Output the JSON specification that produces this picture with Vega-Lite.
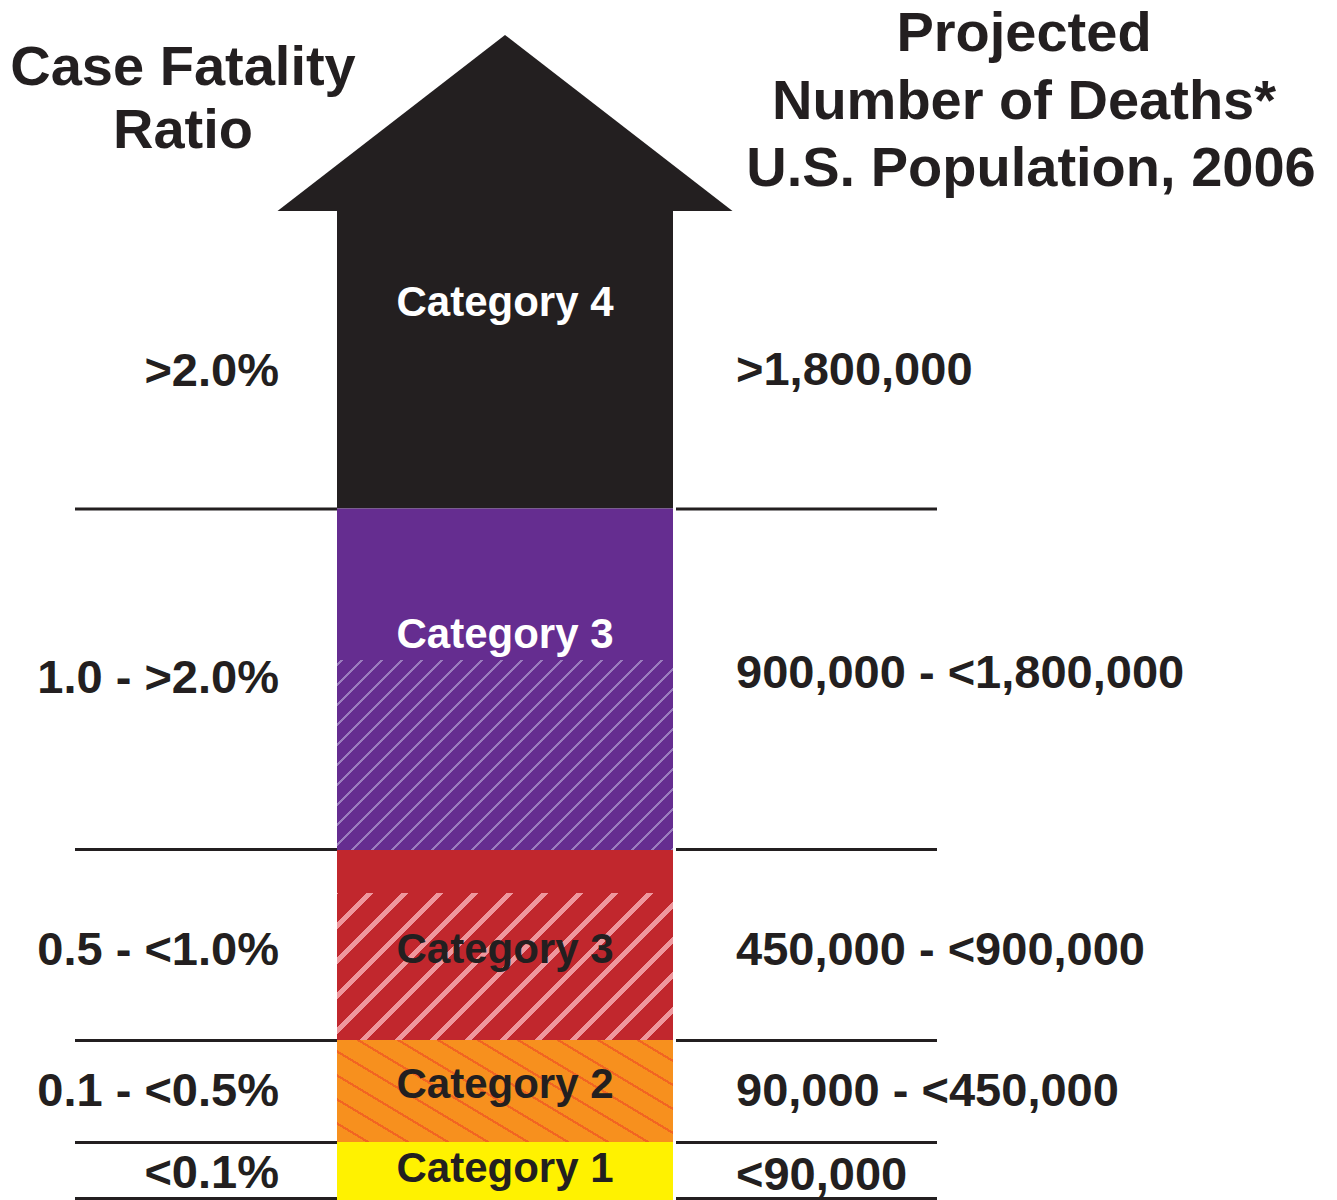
{
  "$schema": "https://vega.github.io/schema/vega-lite/v6.json",
  "width": 1337,
  "height": 1200,
  "autosize": {"type": "fit", "contains": "padding"},
  "padding": 0,
  "background": "white",
  "config": {"view": {"stroke": null}},
  "datasets": {
    "solid": [
      {"part": "Category 4", "left": 337, "right": 673, "top": 210, "bottom": 508.5},
      {"part": "Category 3 (purple)", "left": 337, "right": 673, "top": 508.5, "bottom": 660},
      {"part": "Category 3 (red)", "left": 337, "right": 673, "top": 850, "bottom": 893},
      {"part": "Category 1", "left": 337, "right": 673, "top": 1142, "bottom": 1200}
    ],
    "hatched": [
      {"part": "Category 3 (purple)", "left": 337, "right": 673, "top": 660, "bottom": 850},
      {"part": "Category 3 (red)", "left": 337, "right": 673, "top": 893, "bottom": 1040},
      {"part": "Category 2", "left": 337, "right": 673, "top": 1040, "bottom": 1142}
    ],
    "head": [
      {"x": 277.5, "top": 211, "base": 211},
      {"x": 505, "top": 35, "base": 211},
      {"x": 732.5, "top": 211, "base": 211}
    ],
    "separators": [
      {"side": "left", "from": 75, "to": 337, "y": 509},
      {"side": "left", "from": 75, "to": 337, "y": 849.5},
      {"side": "left", "from": 75, "to": 337, "y": 1040.5},
      {"side": "left", "from": 75, "to": 337, "y": 1142.5},
      {"side": "left", "from": 75, "to": 337, "y": 1198.5},
      {"side": "right", "from": 676, "to": 937, "y": 509},
      {"side": "right", "from": 676, "to": 937, "y": 849.5},
      {"side": "right", "from": 676, "to": 937, "y": 1040.5},
      {"side": "right", "from": 676, "to": 937, "y": 1142.5},
      {"side": "right", "from": 676, "to": 937, "y": 1198.5}
    ],
    "labels": [
      {"group": "title", "text": "Case Fatality", "x": 183, "y": 85, "tone": "dark"},
      {"group": "title", "text": "Ratio", "x": 183, "y": 148, "tone": "dark"},
      {"group": "title", "text": "Projected", "x": 1024, "y": 51, "tone": "dark"},
      {"group": "title", "text": "Number of Deaths*", "x": 1024, "y": 119, "tone": "dark"},
      {"group": "title", "text": "U.S. Population, 2006", "x": 1031, "y": 186, "tone": "dark"},
      {"group": "cfr", "text": ">2.0%", "x": 279, "y": 386, "tone": "dark"},
      {"group": "cfr", "text": "1.0 - >2.0%", "x": 279, "y": 693, "tone": "dark"},
      {"group": "cfr", "text": "0.5 - <1.0%", "x": 279, "y": 965, "tone": "dark"},
      {"group": "cfr", "text": "0.1 - <0.5%", "x": 279, "y": 1106, "tone": "dark"},
      {"group": "cfr", "text": "<0.1%", "x": 279, "y": 1188, "tone": "dark"},
      {"group": "deaths", "text": ">1,800,000", "x": 736, "y": 385, "tone": "dark"},
      {"group": "deaths", "text": "900,000 - <1,800,000", "x": 736, "y": 688, "tone": "dark"},
      {"group": "deaths", "text": "450,000 - <900,000", "x": 736, "y": 965, "tone": "dark"},
      {"group": "deaths", "text": "90,000 - <450,000", "x": 736, "y": 1106, "tone": "dark"},
      {"group": "deaths", "text": "<90,000", "x": 736, "y": 1190, "tone": "dark"},
      {"group": "category", "text": "Category 4", "x": 505, "y": 316, "tone": "light"},
      {"group": "category", "text": "Category 3", "x": 505, "y": 648, "tone": "light"},
      {"group": "category", "text": "Category 3", "x": 505, "y": 963, "tone": "dark"},
      {"group": "category", "text": "Category 2", "x": 505, "y": 1098, "tone": "dark"},
      {"group": "category", "text": "Category 1", "x": 505, "y": 1182, "tone": "dark"}
    ]
  },
  "encoding": {
    "x": {"field": "left", "type": "quantitative", "axis": null, "scale": {"domain": [0, 1337], "nice": false, "zero": false}},
    "y": {"field": "top", "type": "quantitative", "axis": null, "scale": {"domain": [0, 1200], "reverse": true, "nice": false, "zero": false}}
  },
  "layer": [
    {
      "data": {"name": "solid"},
      "mark": {"type": "rect", "strokeWidth": 0},
      "encoding": {
        "x2": {"field": "right"},
        "y2": {"field": "bottom"},
        "color": {"field": "part", "type": "nominal", "legend": null,
          "scale": {"domain": ["Category 4", "Category 3 (purple)", "Category 3 (red)", "Category 1"],
                    "range": ["#231f20", "#652d90", "#c1272d", "#fff200"]}}
      }
    },
    {
      "data": {"name": "hatched"},
      "transform": [{"filter": "datum.part === 'Category 3 (purple)'"}],
      "mark": {"type": "rect", "strokeWidth": 0,
        "fill": {"gradient": "linear", "x1": 0, "y1": 0, "x2": 1.18618, "y2": 0.67076,
          "stops": [
            {"offset": 0, "color": "#652d90"},
            {"offset": 0.006654, "color": "#652d90"}, {"offset": 0.006654, "color": "#9b7dbe"}, {"offset": 0.012357, "color": "#9b7dbe"}, {"offset": 0.012357, "color": "#652d90"},
            {"offset": 0.044677, "color": "#652d90"}, {"offset": 0.044677, "color": "#9b7dbe"}, {"offset": 0.050380, "color": "#9b7dbe"}, {"offset": 0.050380, "color": "#652d90"},
            {"offset": 0.082700, "color": "#652d90"}, {"offset": 0.082700, "color": "#9b7dbe"}, {"offset": 0.088403, "color": "#9b7dbe"}, {"offset": 0.088403, "color": "#652d90"},
            {"offset": 0.120722, "color": "#652d90"}, {"offset": 0.120722, "color": "#9b7dbe"}, {"offset": 0.126426, "color": "#9b7dbe"}, {"offset": 0.126426, "color": "#652d90"},
            {"offset": 0.158745, "color": "#652d90"}, {"offset": 0.158745, "color": "#9b7dbe"}, {"offset": 0.164449, "color": "#9b7dbe"}, {"offset": 0.164449, "color": "#652d90"},
            {"offset": 0.196768, "color": "#652d90"}, {"offset": 0.196768, "color": "#9b7dbe"}, {"offset": 0.202471, "color": "#9b7dbe"}, {"offset": 0.202471, "color": "#652d90"},
            {"offset": 0.234791, "color": "#652d90"}, {"offset": 0.234791, "color": "#9b7dbe"}, {"offset": 0.240494, "color": "#9b7dbe"}, {"offset": 0.240494, "color": "#652d90"},
            {"offset": 0.272814, "color": "#652d90"}, {"offset": 0.272814, "color": "#9b7dbe"}, {"offset": 0.278517, "color": "#9b7dbe"}, {"offset": 0.278517, "color": "#652d90"},
            {"offset": 0.310837, "color": "#652d90"}, {"offset": 0.310837, "color": "#9b7dbe"}, {"offset": 0.316540, "color": "#9b7dbe"}, {"offset": 0.316540, "color": "#652d90"},
            {"offset": 0.348859, "color": "#652d90"}, {"offset": 0.348859, "color": "#9b7dbe"}, {"offset": 0.354563, "color": "#9b7dbe"}, {"offset": 0.354563, "color": "#652d90"},
            {"offset": 0.386882, "color": "#652d90"}, {"offset": 0.386882, "color": "#9b7dbe"}, {"offset": 0.392586, "color": "#9b7dbe"}, {"offset": 0.392586, "color": "#652d90"},
            {"offset": 0.424905, "color": "#652d90"}, {"offset": 0.424905, "color": "#9b7dbe"}, {"offset": 0.430608, "color": "#9b7dbe"}, {"offset": 0.430608, "color": "#652d90"},
            {"offset": 0.462928, "color": "#652d90"}, {"offset": 0.462928, "color": "#9b7dbe"}, {"offset": 0.468631, "color": "#9b7dbe"}, {"offset": 0.468631, "color": "#652d90"},
            {"offset": 0.500951, "color": "#652d90"}, {"offset": 0.500951, "color": "#9b7dbe"}, {"offset": 0.506654, "color": "#9b7dbe"}, {"offset": 0.506654, "color": "#652d90"},
            {"offset": 0.538973, "color": "#652d90"}, {"offset": 0.538973, "color": "#9b7dbe"}, {"offset": 0.544677, "color": "#9b7dbe"}, {"offset": 0.544677, "color": "#652d90"},
            {"offset": 0.576996, "color": "#652d90"}, {"offset": 0.576996, "color": "#9b7dbe"}, {"offset": 0.582700, "color": "#9b7dbe"}, {"offset": 0.582700, "color": "#652d90"},
            {"offset": 0.615019, "color": "#652d90"}, {"offset": 0.615019, "color": "#9b7dbe"}, {"offset": 0.620722, "color": "#9b7dbe"}, {"offset": 0.620722, "color": "#652d90"},
            {"offset": 0.653042, "color": "#652d90"}, {"offset": 0.653042, "color": "#9b7dbe"}, {"offset": 0.658745, "color": "#9b7dbe"}, {"offset": 0.658745, "color": "#652d90"},
            {"offset": 0.691065, "color": "#652d90"}, {"offset": 0.691065, "color": "#9b7dbe"}, {"offset": 0.696768, "color": "#9b7dbe"}, {"offset": 0.696768, "color": "#652d90"},
            {"offset": 0.729087, "color": "#652d90"}, {"offset": 0.729087, "color": "#9b7dbe"}, {"offset": 0.734791, "color": "#9b7dbe"}, {"offset": 0.734791, "color": "#652d90"},
            {"offset": 0.767110, "color": "#652d90"}, {"offset": 0.767110, "color": "#9b7dbe"}, {"offset": 0.772814, "color": "#9b7dbe"}, {"offset": 0.772814, "color": "#652d90"},
            {"offset": 0.805133, "color": "#652d90"}, {"offset": 0.805133, "color": "#9b7dbe"}, {"offset": 0.810837, "color": "#9b7dbe"}, {"offset": 0.810837, "color": "#652d90"},
            {"offset": 0.843156, "color": "#652d90"}, {"offset": 0.843156, "color": "#9b7dbe"}, {"offset": 0.848859, "color": "#9b7dbe"}, {"offset": 0.848859, "color": "#652d90"},
            {"offset": 0.881179, "color": "#652d90"}, {"offset": 0.881179, "color": "#9b7dbe"}, {"offset": 0.886882, "color": "#9b7dbe"}, {"offset": 0.886882, "color": "#652d90"},
            {"offset": 0.919202, "color": "#652d90"}, {"offset": 0.919202, "color": "#9b7dbe"}, {"offset": 0.924905, "color": "#9b7dbe"}, {"offset": 0.924905, "color": "#652d90"},
            {"offset": 0.957224, "color": "#652d90"}, {"offset": 0.957224, "color": "#9b7dbe"}, {"offset": 0.962928, "color": "#9b7dbe"}, {"offset": 0.962928, "color": "#652d90"},
            {"offset": 0.995247, "color": "#652d90"}, {"offset": 0.995247, "color": "#9b7dbe"}, {"offset": 1, "color": "#9b7dbe"}
          ]}},
      "encoding": {"x2": {"field": "right"}, "y2": {"field": "bottom"}}
    },
    {
      "data": {"name": "hatched"},
      "transform": [{"filter": "datum.part === 'Category 3 (red)'"}],
      "mark": {"type": "rect", "strokeWidth": 0,
        "fill": {"gradient": "linear", "x1": 0, "y1": 0, "x2": 1.20655, "y2": 0.52787,
          "stops": [
            {"offset": 0, "color": "#ef979d"}, {"offset": 0.003106, "color": "#ef979d"}, {"offset": 0.003106, "color": "#c1272d"},
            {"offset": 0.061077, "color": "#c1272d"}, {"offset": 0.061077, "color": "#ef979d"}, {"offset": 0.075569, "color": "#ef979d"}, {"offset": 0.075569, "color": "#c1272d"},
            {"offset": 0.133540, "color": "#c1272d"}, {"offset": 0.133540, "color": "#ef979d"}, {"offset": 0.148033, "color": "#ef979d"}, {"offset": 0.148033, "color": "#c1272d"},
            {"offset": 0.206004, "color": "#c1272d"}, {"offset": 0.206004, "color": "#ef979d"}, {"offset": 0.220497, "color": "#ef979d"}, {"offset": 0.220497, "color": "#c1272d"},
            {"offset": 0.278468, "color": "#c1272d"}, {"offset": 0.278468, "color": "#ef979d"}, {"offset": 0.292961, "color": "#ef979d"}, {"offset": 0.292961, "color": "#c1272d"},
            {"offset": 0.350932, "color": "#c1272d"}, {"offset": 0.350932, "color": "#ef979d"}, {"offset": 0.365424, "color": "#ef979d"}, {"offset": 0.365424, "color": "#c1272d"},
            {"offset": 0.423395, "color": "#c1272d"}, {"offset": 0.423395, "color": "#ef979d"}, {"offset": 0.437888, "color": "#ef979d"}, {"offset": 0.437888, "color": "#c1272d"},
            {"offset": 0.495859, "color": "#c1272d"}, {"offset": 0.495859, "color": "#ef979d"}, {"offset": 0.510352, "color": "#ef979d"}, {"offset": 0.510352, "color": "#c1272d"},
            {"offset": 0.568323, "color": "#c1272d"}, {"offset": 0.568323, "color": "#ef979d"}, {"offset": 0.582816, "color": "#ef979d"}, {"offset": 0.582816, "color": "#c1272d"},
            {"offset": 0.640787, "color": "#c1272d"}, {"offset": 0.640787, "color": "#ef979d"}, {"offset": 0.655280, "color": "#ef979d"}, {"offset": 0.655280, "color": "#c1272d"},
            {"offset": 0.713251, "color": "#c1272d"}, {"offset": 0.713251, "color": "#ef979d"}, {"offset": 0.727743, "color": "#ef979d"}, {"offset": 0.727743, "color": "#c1272d"},
            {"offset": 0.785714, "color": "#c1272d"}, {"offset": 0.785714, "color": "#ef979d"}, {"offset": 0.800207, "color": "#ef979d"}, {"offset": 0.800207, "color": "#c1272d"},
            {"offset": 0.858178, "color": "#c1272d"}, {"offset": 0.858178, "color": "#ef979d"}, {"offset": 0.872671, "color": "#ef979d"}, {"offset": 0.872671, "color": "#c1272d"},
            {"offset": 0.930642, "color": "#c1272d"}, {"offset": 0.930642, "color": "#ef979d"}, {"offset": 0.945135, "color": "#ef979d"}, {"offset": 0.945135, "color": "#c1272d"},
            {"offset": 1, "color": "#c1272d"}
          ]}},
      "encoding": {"x2": {"field": "right"}, "y2": {"field": "bottom"}}
    },
    {
      "data": {"name": "hatched"},
      "transform": [{"filter": "datum.part === 'Category 2'"}],
      "mark": {"type": "rect", "strokeWidth": 0,
        "fill": {"gradient": "linear", "x1": 1, "y1": 0, "x2": -0.19902, "y2": 0.60665,
          "stops": [
            {"offset": 0, "color": "#f7901e"},
            {"offset": 0.065053, "color": "#f7901e"}, {"offset": 0.065053, "color": "#f26522"}, {"offset": 0.073287, "color": "#f26522"}, {"offset": 0.073287, "color": "#f7901e"},
            {"offset": 0.144104, "color": "#f7901e"}, {"offset": 0.144104, "color": "#f26522"}, {"offset": 0.152339, "color": "#f26522"}, {"offset": 0.152339, "color": "#f7901e"},
            {"offset": 0.223155, "color": "#f7901e"}, {"offset": 0.223155, "color": "#f26522"}, {"offset": 0.231390, "color": "#f26522"}, {"offset": 0.231390, "color": "#f7901e"},
            {"offset": 0.302207, "color": "#f7901e"}, {"offset": 0.302207, "color": "#f26522"}, {"offset": 0.310441, "color": "#f26522"}, {"offset": 0.310441, "color": "#f7901e"},
            {"offset": 0.381258, "color": "#f7901e"}, {"offset": 0.381258, "color": "#f26522"}, {"offset": 0.389493, "color": "#f26522"}, {"offset": 0.389493, "color": "#f7901e"},
            {"offset": 0.460310, "color": "#f7901e"}, {"offset": 0.460310, "color": "#f26522"}, {"offset": 0.468544, "color": "#f26522"}, {"offset": 0.468544, "color": "#f7901e"},
            {"offset": 0.539361, "color": "#f7901e"}, {"offset": 0.539361, "color": "#f26522"}, {"offset": 0.547596, "color": "#f26522"}, {"offset": 0.547596, "color": "#f7901e"},
            {"offset": 0.618412, "color": "#f7901e"}, {"offset": 0.618412, "color": "#f26522"}, {"offset": 0.626647, "color": "#f26522"}, {"offset": 0.626647, "color": "#f7901e"},
            {"offset": 0.697464, "color": "#f7901e"}, {"offset": 0.697464, "color": "#f26522"}, {"offset": 0.705698, "color": "#f26522"}, {"offset": 0.705698, "color": "#f7901e"},
            {"offset": 0.776515, "color": "#f7901e"}, {"offset": 0.776515, "color": "#f26522"}, {"offset": 0.784750, "color": "#f26522"}, {"offset": 0.784750, "color": "#f7901e"},
            {"offset": 0.855567, "color": "#f7901e"}, {"offset": 0.855567, "color": "#f26522"}, {"offset": 0.863801, "color": "#f26522"}, {"offset": 0.863801, "color": "#f7901e"},
            {"offset": 0.934618, "color": "#f7901e"}, {"offset": 0.934618, "color": "#f26522"}, {"offset": 0.942852, "color": "#f26522"}, {"offset": 0.942852, "color": "#f7901e"},
            {"offset": 1, "color": "#f7901e"}
          ]}},
      "encoding": {"x2": {"field": "right"}, "y2": {"field": "bottom"}}
    },
    {
      "data": {"name": "head"},
      "mark": {"type": "area", "color": "#231f20", "interpolate": "linear", "orient": "vertical"},
      "encoding": {
        "x": {"field": "x", "type": "quantitative"},
        "y": {"field": "top", "type": "quantitative"},
        "y2": {"field": "base"}
      }
    },
    {
      "data": {"name": "separators"},
      "mark": {"type": "rule", "color": "#231f20", "strokeWidth": 3},
      "encoding": {
        "x": {"field": "from", "type": "quantitative"},
        "x2": {"field": "to"},
        "y": {"field": "y", "type": "quantitative"}
      }
    },
    {
      "data": {"name": "labels"},
      "transform": [{"filter": "datum.group === 'title'"}],
      "mark": {"type": "text", "align": "center", "baseline": "alphabetic", "font": "Liberation Sans", "fontWeight": "bold", "fontSize": 56, "color": "#231f20"},
      "encoding": {
        "x": {"field": "x", "type": "quantitative"},
        "y": {"field": "y", "type": "quantitative"},
        "text": {"field": "text"}
      }
    },
    {
      "data": {"name": "labels"},
      "transform": [{"filter": "datum.group === 'cfr'"}],
      "mark": {"type": "text", "align": "right", "baseline": "alphabetic", "font": "Liberation Sans", "fontWeight": "bold", "fontSize": 47, "color": "#231f20"},
      "encoding": {
        "x": {"field": "x", "type": "quantitative"},
        "y": {"field": "y", "type": "quantitative"},
        "text": {"field": "text"}
      }
    },
    {
      "data": {"name": "labels"},
      "transform": [{"filter": "datum.group === 'deaths'"}],
      "mark": {"type": "text", "align": "left", "baseline": "alphabetic", "font": "Liberation Sans", "fontWeight": "bold", "fontSize": 47, "color": "#231f20"},
      "encoding": {
        "x": {"field": "x", "type": "quantitative"},
        "y": {"field": "y", "type": "quantitative"},
        "text": {"field": "text"}
      }
    },
    {
      "data": {"name": "labels"},
      "transform": [{"filter": "datum.group === 'category' && datum.tone === 'light'"}],
      "mark": {"type": "text", "align": "center", "baseline": "alphabetic", "font": "Liberation Sans", "fontWeight": "bold", "fontSize": 42, "color": "#ffffff"},
      "encoding": {
        "x": {"field": "x", "type": "quantitative"},
        "y": {"field": "y", "type": "quantitative"},
        "text": {"field": "text"}
      }
    },
    {
      "data": {"name": "labels"},
      "transform": [{"filter": "datum.group === 'category' && datum.tone === 'dark'"}],
      "mark": {"type": "text", "align": "center", "baseline": "alphabetic", "font": "Liberation Sans", "fontWeight": "bold", "fontSize": 42, "color": "#231f20"},
      "encoding": {
        "x": {"field": "x", "type": "quantitative"},
        "y": {"field": "y", "type": "quantitative"},
        "text": {"field": "text"}
      }
    }
  ]
}
